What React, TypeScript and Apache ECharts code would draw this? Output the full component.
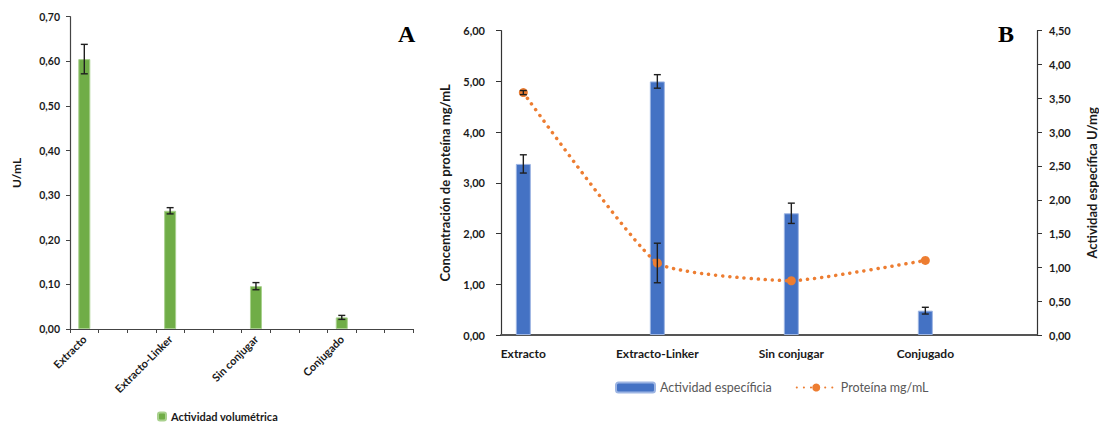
import React, { useEffect, useRef } from "react";
import * as echarts from "echarts";

// Panel A
const catsA = ["Extracto", "Extracto-Linker", "Sin conjugar", "Conjugado"];
const volValues = [0.605, 0.265, 0.096, 0.026];
const volErr = [0.033, 0.007, 0.008, 0.0045];
const yTicksA = { min: 0, max: 0.7, interval: 0.1 };

// Panel B
const catsB = ["Extracto", "Extracto-Linker", "Sin conjugar", "Conjugado"];
const especValues = [2.53, 3.75, 1.8, 0.36];
const especErr = [0.135, 0.1, 0.15, 0.05];
const protValues = [4.78, 1.42, 1.07, 1.47];
const protErr = [0.04, 0.39, 0, 0];
const yLeftB = { min: 0, max: 6, interval: 1 };
const yRightB = { min: 0, max: 4.5, interval: 0.5 };

const SLOTS = 12;
const STEP = 3;

const FONT = "Lato, 'Open Sans', sans-serif";
const fmt = (v: number) => v.toFixed(2).replace(".", ",");

function slotCats(cats: string[]) {
  const out: string[] = [];
  for (let i = 0; i < SLOTS; i++) out.push("");
  cats.forEach((c, i) => (out[i * STEP] = c));
  return out;
}
function slotVals(vals: number[]) {
  const out: (number | null)[] = [];
  for (let i = 0; i < SLOTS; i++) out.push(null);
  vals.forEach((v, i) => (out[i * STEP] = v));
  return out;
}
function errData(vals: number[], errs: number[]) {
  return vals
    .map((v, i) => [i * STEP, v - errs[i], v + errs[i]])
    .filter((d, i) => errs[i] > 0);
}

const renderErr = (params: any, api: any) => {
  const x = api.value(0);
  const p1 = api.coord([x, api.value(1)]);
  const p2 = api.coord([x, api.value(2)]);
  const w = 3.5;
  const style = { stroke: "#1f1f1f", lineWidth: 1.4 };
  return {
    type: "group",
    children: [
      { type: "line", shape: { x1: p1[0], y1: p1[1], x2: p2[0], y2: p2[1] }, style },
      { type: "line", shape: { x1: p1[0] - w, y1: p1[1], x2: p1[0] + w, y2: p1[1] }, style },
      { type: "line", shape: { x1: p2[0] - w, y1: p2[1], x2: p2[0] + w, y2: p2[1] }, style },
    ],
  };
};

export default function App() {
  const ref = useRef<HTMLDivElement>(null);
  useEffect(() => {
    document.body.style.margin = "0";
    const chart = echarts.init(ref.current!, undefined, { renderer: "svg" });
    const axisLabelBold = { fontFamily: FONT, fontWeight: "bold", color: "#1a1a1a" };
    const option: any = {
      animation: false,
      backgroundColor: "#ffffff",
      textStyle: { fontFamily: FONT },
      grid: [
        { left: 70, top: 16.7, width: 343.3, height: 312.3 },
        { left: 501, top: 30.7, width: 537, height: 304.3 },
      ],
      xAxis: [
        {
          type: "category",
          gridIndex: 0,
          data: slotCats(catsA),
          boundaryGap: true,
          axisLine: { lineStyle: { color: "#444", width: 1.2 } },
          axisTick: { show: true, interval: 0, length: 4, lineStyle: { color: "#444" } },
          axisLabel: { ...axisLabelBold, interval: 0, rotate: 45, fontSize: 11, margin: 8 },
        },
        {
          type: "category",
          gridIndex: 1,
          data: slotCats(catsB),
          boundaryGap: true,
          axisLine: { lineStyle: { color: "#555", width: 1.8 } },
          axisTick: { show: false },
          axisLabel: { ...axisLabelBold, interval: 0, fontSize: 12, margin: 12 },
        },
      ],
      yAxis: [
        {
          type: "value",
          gridIndex: 0,
          ...yTicksA,
          name: "U/mL",
          nameLocation: "middle",
          nameGap: 48,
          nameTextStyle: { fontFamily: FONT, fontWeight: "bold", fontSize: 12, color: "#1a1a1a" },
          splitLine: { show: false },
          axisLine: { show: true, lineStyle: { color: "#444", width: 1.2 } },
          axisTick: { show: true, length: 4, lineStyle: { color: "#444" } },
          axisLabel: { ...axisLabelBold, fontSize: 10.5, margin: 10, formatter: fmt },
        },
        {
          type: "value",
          gridIndex: 1,
          ...yLeftB,
          name: "Concentración de proteína mg/mL",
          nameLocation: "middle",
          nameGap: 50,
          nameTextStyle: { fontFamily: FONT, fontWeight: "bold", fontSize: 13, color: "#1a1a1a" },
          splitLine: { show: false },
          axisLine: { show: true, lineStyle: { color: "#333", width: 1.2 } },
          axisTick: { show: true, length: 5, lineStyle: { color: "#333" } },
          axisLabel: { ...axisLabelBold, fontSize: 11, margin: 16, formatter: fmt },
        },
        {
          type: "value",
          gridIndex: 1,
          position: "right",
          ...yRightB,
          name: "Actividad específica U/mg",
          nameLocation: "middle",
          nameRotate: 90,
          nameGap: 48,
          nameTextStyle: { fontFamily: FONT, fontWeight: "bold", fontSize: 13, color: "#1a1a1a" },
          splitLine: { show: false },
          axisLine: { show: true, lineStyle: { color: "#333", width: 1.2 } },
          axisTick: { show: true, length: 5, lineStyle: { color: "#333" } },
          axisLabel: { ...axisLabelBold, fontSize: 11, margin: 12, formatter: fmt },
        },
      ],
      legend: [
        {
          data: ["Actividad volumétrica"],
          left: 155,
          top: 409,
          padding: 2,
          itemWidth: 8,
          itemHeight: 8,
          textStyle: { fontFamily: FONT, fontWeight: "bold", fontSize: 11, color: "#1a1a1a" },
        },
        {
          data: ["Actividad específicia", "Proteína mg/mL"],
          left: 610,
          top: 376,
          itemWidth: 39,
          itemHeight: 10,
          itemGap: 24,
          textStyle: { fontFamily: FONT, fontSize: 12.5, color: "#595959" },
        },
      ],
      graphic: [
        {
          type: "text",
          left: 398,
          top: 22,
          style: { text: "A", font: "bold 24px 'Liberation Serif', 'DejaVu Serif', serif", fill: "#000" },
        },
        {
          type: "text",
          left: 998,
          top: 22,
          style: { text: "B", font: "bold 24px 'Liberation Serif', 'DejaVu Serif', serif", fill: "#000" },
        },
      ],
      series: [
        {
          name: "Actividad volumétrica",
          type: "bar",
          xAxisIndex: 0,
          yAxisIndex: 0,
          data: slotVals(volValues),
          barWidth: 12,
          itemStyle: { color: "#70AD47", borderColor: "#A9D18E", borderWidth: 1 },
        },
        {
          type: "custom",
          xAxisIndex: 0,
          yAxisIndex: 0,
          renderItem: renderErr,
          data: errData(volValues, volErr),
          encode: { x: 0, y: [1, 2] },
          z: 10,
        },
        {
          name: "Actividad específicia",
          type: "bar",
          xAxisIndex: 1,
          yAxisIndex: 2,
          data: slotVals(especValues),
          barWidth: 15,
          itemStyle: { color: "#4472C4", borderColor: "#9DB5E3", borderWidth: 1 },
        },
        {
          type: "custom",
          xAxisIndex: 1,
          yAxisIndex: 2,
          renderItem: renderErr,
          data: errData(especValues, especErr),
          encode: { x: 0, y: [1, 2] },
          z: 10,
        },
        {
          name: "Proteína mg/mL",
          type: "line",
          xAxisIndex: 1,
          yAxisIndex: 1,
          data: protValues.map((v, i) => [i * STEP, v]),
          smooth: 0.15,
          symbol: "circle",
          symbolSize: 9,
          itemStyle: { color: "#ED7D31" },
          lineStyle: { color: "#ED7D31", width: 3.5, type: [0.1, 7], cap: "round" },
          z: 5,
        },
        {
          type: "custom",
          xAxisIndex: 1,
          yAxisIndex: 1,
          renderItem: renderErr,
          data: errData(protValues, protErr),
          encode: { x: 0, y: [1, 2] },
          z: 10,
        },
      ],
    };
    chart.setOption(option);
    return () => chart.dispose();
  }, []);
  return <div ref={ref} style={{ width: 1099, height: 428 }} />;
}
